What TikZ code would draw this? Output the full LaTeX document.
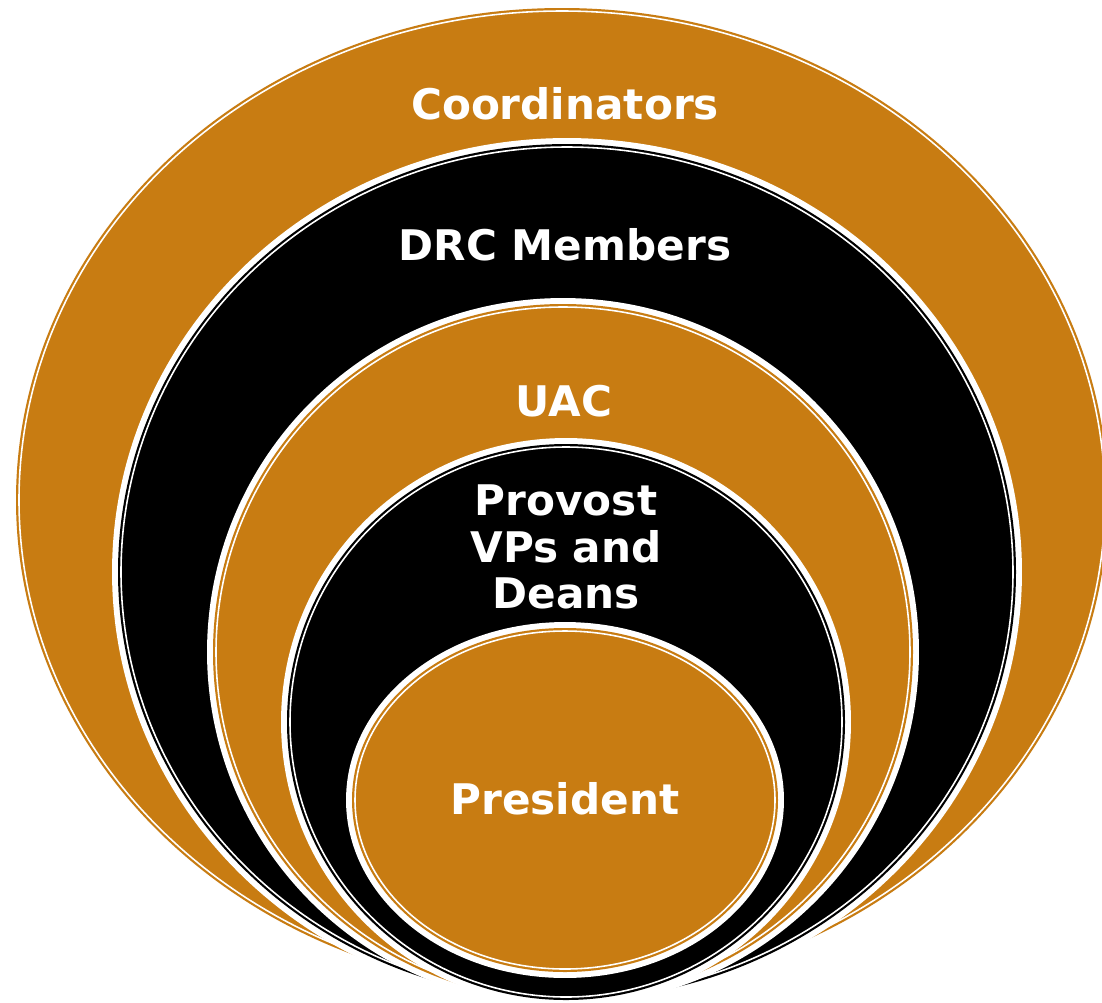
\documentclass[tikz,border=0pt]{standalone}
\usepackage{fontspec}
\setmainfont{DejaVu Sans}
\definecolor{gold}{HTML}{C87C12}
\tikzset{
  label/.style={text=white, font=\fontsize{24}{26.5}\selectfont\bfseries, align=center, inner sep=0pt},
  gap/.style={draw=white, line width=6.8pt},
  inline/.style={draw=white, line width=0.9pt}
}
\begin{document}
\begin{tikzpicture}[x=0.02cm, y=-0.02cm]
        \useasboundingbox (0,0) rectangle (1102,1002);
        % rings, outermost first
        \foreach \cx/\cy/\rx/\ry/\col in {562/500/546/492/gold, 567/572/449/428/black,
            563/652/350/348/gold, 566/722/279/278/black, 565/800/213/172/gold} {
          \path[gap] (\cx,\cy) ellipse [x radius=\rx, y radius=\ry];
          \fill[\col] (\cx,\cy) ellipse [x radius=\rx, y radius=\ry];
          \path[inline] (\cx,\cy) ellipse [x radius=\rx-3, y radius=\ry-3];
        }
        \node[label] (coord) at (565,104) {Coordinators};
        \node[label] (drc) at (565,245) {DRC Members};
        \node[label] (uac) at (564,401) {UAC};
        \node[label] (provost) at (566,547) {Provost\\VPs and\\Deans};
        \node[label] (pres) at (565,799) {President};
      \end{tikzpicture}
\end{document}
